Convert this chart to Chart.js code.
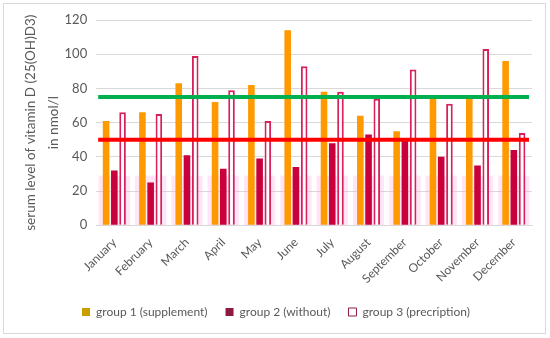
<!DOCTYPE html>
<html>
<head>
<meta charset="utf-8">
<script src="https://cdn.jsdelivr.net/npm/chart.js@4/dist/chart.umd.min.js"></script>
<style>
  html, body { margin: 0; padding: 0; background: #fff; }
  .frame { position: absolute; left: 3px; top: 3px; width: 541px; height: 329px; border: 1px solid #d9d9d9; }
  .wrap { position: absolute; left: 0; top: 0; width: 550px; height: 338px; }
</style>
</head>
<body>
<div class="frame"></div>
<div class="wrap"><canvas id="mychart" width="550" height="338"></canvas></div>
<script>
const months = ['January', 'February', 'March', 'April', 'May', 'June', 'July',
    'August', 'September', 'October', 'November', 'December'];
const group1 = [61, 66, 83, 72, 82, 114, 78, 64, 55, 74, 76, 96];
const group2 = [32, 25, 41, 33, 39, 34, 48, 53, 51, 40, 35, 44];
const group3 = [66, 65, 99, 79, 61, 93, 78, 74, 91, 71, 103, 54];
// reference levels drawn as horizontal lines across the plot
const refLevels = [75, 50];
const refColors = ['#00b050', '#ff0000'];
// faint pink boxes visible behind the bars in the source picture
const shadeLevel = 29;
const yTicks = { min: 0, max: 120, step: 20 };

const grey = '#595959';
const font = 'Lato, "Liberation Sans", sans-serif';
// legend swatches look duller than the bars in the source
const legendColors = ['#caa000', '#8e1a40', '#ffffff'];

// pink boxes behind the bars, one per month
const shadePlugin = {
    id: 'shade',
    beforeDatasetsDraw(chart) {
        const { ctx, scales: { x, y } } = chart;
        const step = x.width / months.length;
        const top = y.getPixelForValue(shadeLevel);
        const bottom = y.getPixelForValue(0);
        ctx.save();
        ctx.fillStyle = 'rgba(255, 170, 225, 0.3)';
        months.forEach((m, i) => {
            const cx = x.getPixelForValue(i);
            ctx.fillRect(cx - step * 0.43, top, step * 0.86, bottom - top);
        });
        ctx.restore();
    }
};

// horizontal reference lines over the bars
const refLinePlugin = {
    id: 'refLines',
    afterDatasetsDraw(chart) {
        const { ctx, chartArea, scales: { y } } = chart;
        ctx.save();
        ctx.lineWidth = 4;
        refLevels.forEach((v, i) => {
            const py = y.getPixelForValue(v);
            ctx.strokeStyle = refColors[i];
            ctx.beginPath();
            ctx.moveTo(chartArea.left + 2, py);
            ctx.lineTo(chartArea.right - 3, py);
            ctx.stroke();
        });
        ctx.restore();
    }
};

const ctx = document.getElementById('mychart').getContext('2d');
let myChart = new Chart(ctx, {
    type: 'bar',
    data: {
        labels: months,
        datasets: [
            {
                label: 'group 1 (supplement)',
                data: group1,
                backgroundColor: '#ff9900',
                borderWidth: 0
            },
            {
                label: 'group 2 (without)',
                data: group2,
                backgroundColor: '#c8003c',
                borderWidth: 0
            },
            {
                label: 'group 3 (precription)',
                data: group3,
                backgroundColor: '#ffffff',
                borderColor: '#d8215a',
                borderWidth: 2,
                borderSkipped: 'bottom'
            }
        ]
    },
    plugins: [shadePlugin, refLinePlugin],
    options: {
        responsive: false,
        animation: false,
        datasets: {
            bar: { categoryPercentage: 0.68, barPercentage: 0.8 }
        },
        layout: { padding: { left: 20, right: 18, top: 20, bottom: 10 } },
        plugins: {
            tooltip: { enabled: false },
            legend: {
                position: 'bottom',
                labels: {
                    color: grey,
                    font: { family: font, size: 12 },
                    boxWidth: 8,
                    boxHeight: 8,
                    padding: 18,
                    generateLabels: chart => {
                        const items = Chart.defaults.plugins.legend.labels.generateLabels(chart);
                        items.forEach((it, i) => {
                            it.fillStyle = legendColors[i];
                            if (i === 2) {
                                it.strokeStyle = '#8e1a40';
                                it.lineWidth = 1;
                            } else {
                                it.strokeStyle = legendColors[i];
                                it.lineWidth = 0;
                            }
                        });
                        return items;
                    }
                }
            }
        },
        scales: {
            x: {
                grid: { display: false },
                border: { color: '#d9d9d9' },
                ticks: {
                    color: grey,
                    font: { family: font, size: 12 },
                    minRotation: 45,
                    maxRotation: 45,
                    padding: 2
                }
            },
            y: {
                min: yTicks.min,
                max: yTicks.max,
                border: { display: false },
                grid: { color: '#d9d9d9', drawTicks: false },
                ticks: {
                    stepSize: yTicks.step,
                    color: grey,
                    padding: 9,
                    font: { family: font, size: 13 }
                },
                title: {
                    display: true,
                    text: ['serum level of vitamin D (25(OH)D3)', 'in nmol/l'],
                    color: grey,
                    font: { family: font, size: 13.5, lineHeight: 1.65 },
                    padding: { top: 0, bottom: -9 }
                }
            }
        }
    }
});
</script>
</body>
</html>
